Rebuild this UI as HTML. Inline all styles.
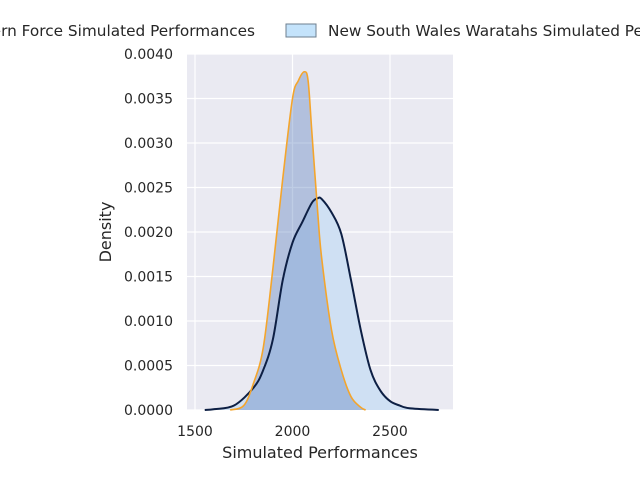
<!DOCTYPE html>
<html><head><meta charset="utf-8"><style>
body{margin:0;background:#fff;}
svg text{font-family:"DejaVu Sans","Liberation Sans",sans-serif;fill:#262626;}
</style></head><body>
<svg id="c" width="640" height="480">
<rect x="187" y="54" width="266" height="356" fill="#eaeaf2"/>
<g id="grid"></g><g id="marks"></g><g id="axes"></g>
<g>
<text x="255" y="36" font-size="15.3" text-anchor="end">Western Force Simulated Performances</text>
<rect x="286" y="24" width="30" height="13" fill="#c4e3fb" stroke="#6e7f8f" stroke-width="1"/>
<text x="328" y="36" font-size="15.3">New South Wales Waratahs Simulated Performances</text>
</g>
<text x="320" y="458" font-size="16" text-anchor="middle">Simulated Performances</text>
<text transform="translate(111,232) rotate(-90)" font-size="16" text-anchor="middle">Density</text>
</svg>
<script>
const xTicks=[1500,2000,2500];
const yTicks=[0,0.0005,0.001,0.0015,0.002,0.0025,0.003,0.0035,0.004];
const nswX=[1550,1600,1700,1800,1850,1900,1950,2000,2050,2100,2130,2150,2200,2250,2300,2350,2400,2450,2500,2550,2600,2750];
const nswY=[0,0.00001,0.00005,0.00025,0.00045,0.0008,0.00146,0.00188,0.00211,0.00233,0.00238,0.00237,0.00222,0.00198,0.00146,0.0009,0.00045,0.00022,0.0001,0.00005,0.00002,0];
const wfX=[1680,1750,1800,1850,1900,1950,2000,2030,2060,2080,2100,2130,2150,2200,2250,2300,2350,2375];
const wfY=[0,0.00005,0.0003,0.0007,0.0016,0.0026,0.0035,0.0037,0.0038,0.0037,0.0031,0.0022,0.0017,0.0009,0.00045,0.00015,0.00003,0];
const X=v=>195+(v-1500)*0.195, Y=v=>410-v*89000;
const NS="http://www.w3.org/2000/svg";
function mk(t,a,p){const e=document.createElementNS(NS,t);for(const k in a)e.setAttribute(k,a[k]);p.appendChild(e);return e;}
const grid=document.getElementById('grid'),axes=document.getElementById('axes'),marks=document.getElementById('marks');
xTicks.forEach(t=>{const l=mk('line',{x1:X(t),x2:X(t),y1:54,y2:410,stroke:'#fff','stroke-width':1.2},grid);


const tx=mk('text',{x:X(t),y:436,'font-size':14,'text-anchor':'middle'},axes);tx.textContent=t;

});
yTicks.forEach(t=>{const l=mk('line',{x1:187,x2:453,y1:Y(t),y2:Y(t),stroke:'#fff','stroke-width':1.2},grid);


const tx=mk('text',{x:173,y:Y(t)+5,'font-size':14,'text-anchor':'end'},axes);tx.textContent=t.toFixed(4);

});
function path(xs,ys){const p=xs.map((x,i)=>[X(x),Y(ys[i])]);let d='M'+p[0];
for(let i=0;i<p.length-1;i++){const p0=p[i-1]||p[i],p1=p[i],p2=p[i+1],p3=p[i+2]||p2;
d+=` C${p1[0]+(p2[0]-p0[0])/6},${p1[1]+(p2[1]-p0[1])/6} ${p2[0]-(p3[0]-p1[0])/6},${p2[1]-(p3[1]-p1[1])/6} ${p2[0]},${p2[1]}`;}return d;}
const dn=path(nswX,nswY),dw=path(wfX,wfY);
const f1=mk('path',{d:dn+`L${X(nswX[nswX.length-1])},410L${X(nswX[0])},410Z`,fill:'#cfe0f3'},marks);


const f2=mk('path',{d:dw+`L${X(wfX[wfX.length-1])},410L${X(wfX[0])},410Z`,fill:'rgba(95,130,190,0.4)'},marks);


const l1=mk('path',{d:dn,fill:'none',stroke:'#0d1f44','stroke-width':2},marks);


const l2=mk('path',{d:dw,fill:'none',stroke:'#f4a52c','stroke-width':1.6},marks);


</script>
</body></html>
